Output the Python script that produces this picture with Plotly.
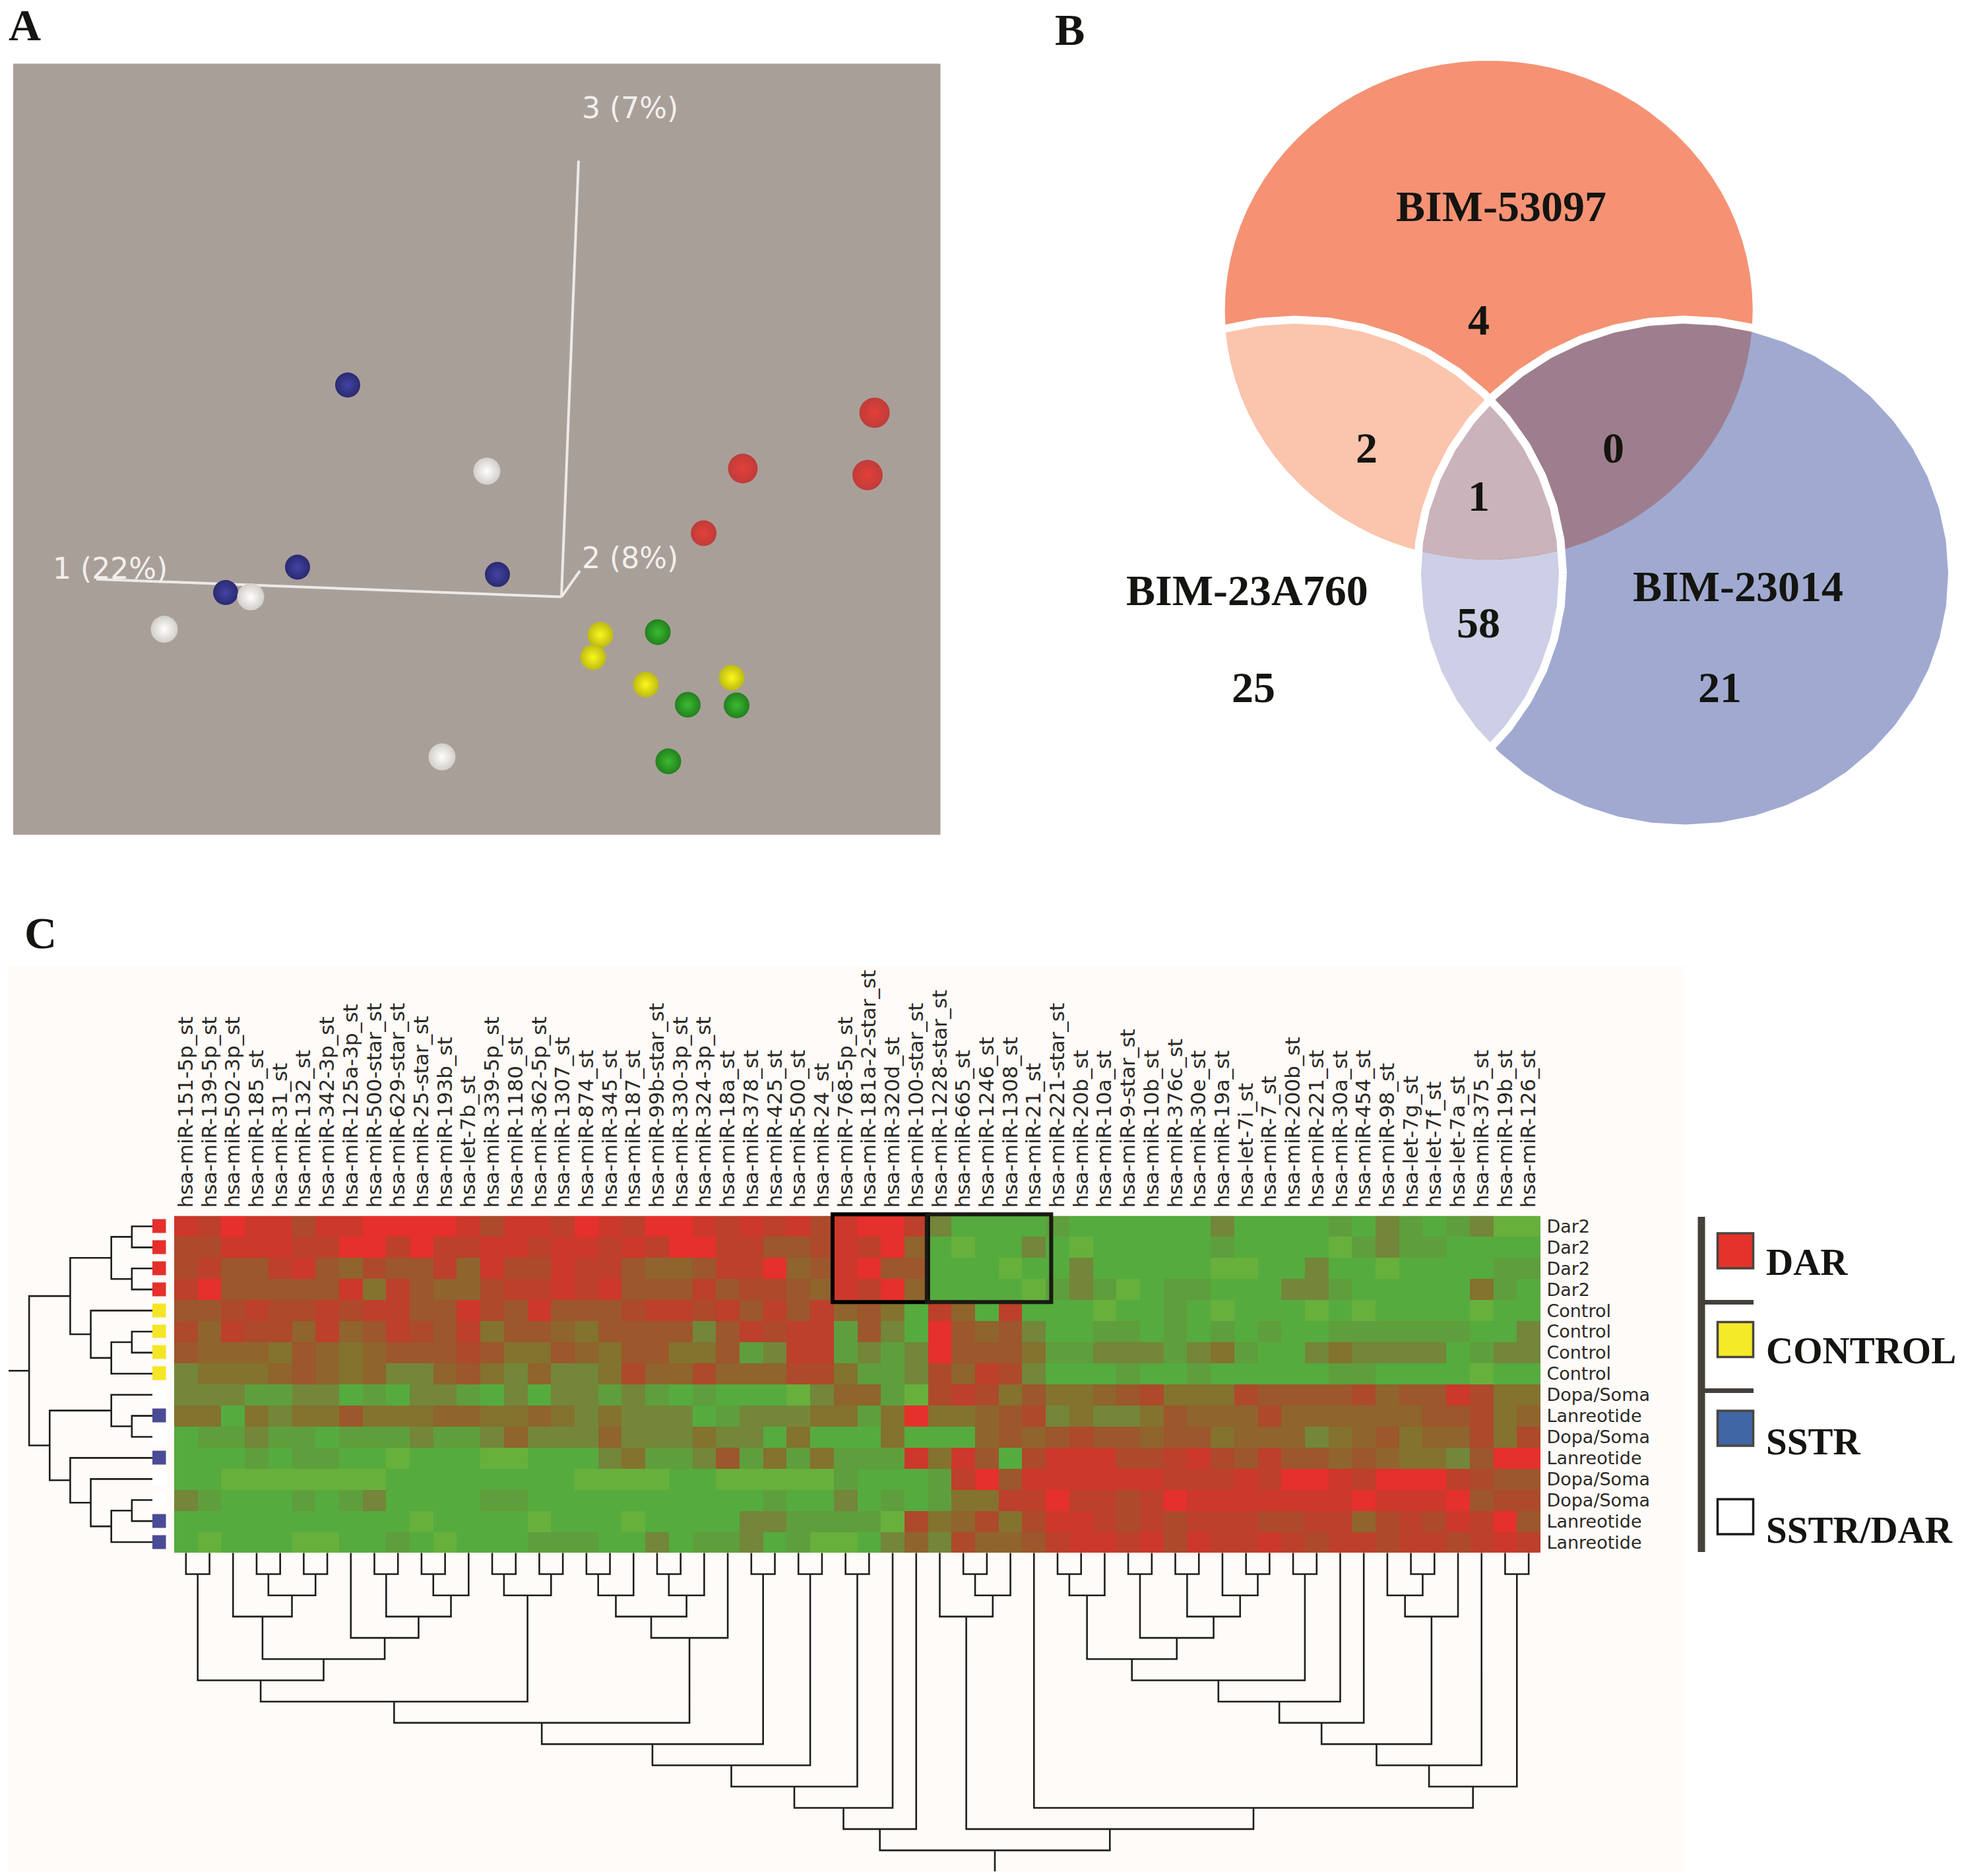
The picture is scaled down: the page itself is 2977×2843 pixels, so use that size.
import numpy as np
import plotly.graph_objects as go

W, H = 2977, 2843

# ---------- Panel A: PCA projection (1 unit = projected distance from the origin) ----------
pca_dar_x = [474.6, 275.0, 464.0, 215.6]
pca_dar_y = [279.2, 194.6, 184.6, 96.6]
pca_control_x = [59.0, 48.0, 128.0, 258.0]
pca_control_y = [-57.4, -91.4, -132.9, -122.4]
pca_untreated_x = [146.0, 191.5, 265.5, 162.0]
pca_untreated_y = [-53.4, -163.4, -164.4, -249.1]
pca_sstr_x = [-324.0, -400.0, -97.0, -509.0]
pca_sstr_y = [321.1, 45.1, 34.0, 6.6]
pca_sstrdar_x = [-113.0, -471.0, -602.0, -181.0]
pca_sstrdar_y = [190.6, 0.0, -49.0, -242.4]
pca_axis_names = ["1 (22%)", "2 (8%)", "3 (7%)"]

# ---------- Panel B: Venn counts ----------
venn_set_names = ["BIM-53097", "BIM-23A760", "BIM-23014"]
venn_only = [4, 25, 21]
venn_pairs = {"53097&23A760": 2, "53097&23014": 0, "23A760&23014": 58}
venn_all = 1

# ---------- Panel C: heat map ----------
mirna = ["hsa-miR-151-5p_st", "hsa-miR-139-5p_st", "hsa-miR-502-3p_st", "hsa-miR-185_st", "hsa-miR-31_st",
         "hsa-miR-132_st", "hsa-miR-342-3p_st", "hsa-miR-125a-3p_st", "hsa-miR-500-star_st", "hsa-miR-629-star_st",
         "hsa-miR-25-star_st", "hsa-miR-193b_st", "hsa-let-7b_st", "hsa-miR-339-5p_st", "hsa-miR-1180_st",
         "hsa-miR-362-5p_st", "hsa-miR-1307_st", "hsa-miR-874_st", "hsa-miR-345_st", "hsa-miR-187_st",
         "hsa-miR-99b-star_st", "hsa-miR-330-3p_st", "hsa-miR-324-3p_st", "hsa-miR-18a_st", "hsa-miR-378_st",
         "hsa-miR-425_st", "hsa-miR-500_st", "hsa-miR-24_st", "hsa-miR-768-5p_st", "hsa-miR-181a-2-star_st",
         "hsa-miR-320d_st", "hsa-miR-100-star_st", "hsa-miR-1228-star_st", "hsa-miR-665_st", "hsa-miR-1246_st",
         "hsa-miR-1308_st", "hsa-miR-21_st", "hsa-miR-221-star_st", "hsa-miR-20b_st", "hsa-miR-10a_st",
         "hsa-miR-9-star_st", "hsa-miR-10b_st", "hsa-miR-376c_st", "hsa-miR-30e_st", "hsa-miR-19a_st",
         "hsa-let-7i_st", "hsa-miR-7_st", "hsa-miR-200b_st", "hsa-miR-221_st", "hsa-miR-30a_st",
         "hsa-miR-454_st", "hsa-miR-98_st", "hsa-let-7g_st", "hsa-let-7f_st", "hsa-let-7a_st",
         "hsa-miR-375_st", "hsa-miR-19b_st", "hsa-miR-126_st"]
samples = ["Dar2", "Dar2", "Dar2", "Dar2", "Control", "Control", "Control", "Control",
           "Dopa/Soma", "Lanreotide", "Dopa/Soma", "Lanreotide", "Dopa/Soma", "Dopa/Soma", "Lanreotide", "Lanreotide"]
# treatment of each sample: 0 DAR, 1 CONTROL, 2 SSTR, 3 SSTR/DAR
sample_group = [0, 0, 0, 0, 1, 1, 1, 1, 3, 2, 3, 2, 3, 3, 2, 2]

row00 = [9,8,10,9,9,7,9,9,10,10,10,10,9,7,9,9,8,10, 9,8,10,10,9,8,9,8,9,7,9,10,10,8,3,1,1,1,1,2,1, 1,1,1,1,1,3,1,1,1,1,2,1,3,2,1,2,3,0,0]
row01 = [7,7,9,9,9,8,8,10,10,8,10,8,8,9,9,8,9,9, 8,9,8,10,10,8,8,6,6,7,9,8,10,5,1,0,1,1,3,1,0, 1,1,1,1,1,2,1,1,1,1,0,2,3,2,2,1,1,1,1]
row02 = [7,8,6,6,8,9,6,5,7,6,6,8,5,9,7,7,9,8, 8,6,5,5,6,8,8,10,5,6,9,10,6,6,1,1,1,0,1,1,3, 1,1,1,1,1,0,0,1,1,3,1,1,0,1,1,1,1,2,2]
row03 = [8,10,6,6,6,6,6,9,4,8,6,5,5,7,8,8,9,8, 9,6,6,6,8,6,7,7,6,5,9,8,10,5,1,1,1,1,0,2,3, 2,0,1,2,2,1,1,1,3,3,2,1,1,1,1,1,4,2,1]
row04 = [6,6,7,8,7,7,8,7,8,8,6,6,9,7,6,9,6,6, 6,7,8,8,7,8,6,8,6,8,5,6,4,1,8,5,1,8,1,1,1, 0,1,1,2,1,0,1,1,1,0,1,0,1,1,1,1,0,1,1]
row05 = [7,5,8,7,7,5,8,5,6,8,7,6,8,4,6,6,5,4, 6,6,6,6,3,6,8,7,8,8,2,6,3,1,10,6,5,6,3,1,1, 2,2,1,2,1,2,1,2,1,1,2,2,2,2,2,2,1,1,3]
row06 = [6,5,5,5,4,6,5,4,5,6,6,6,7,6,4,4,6,5, 4,6,6,4,4,6,2,3,8,8,2,3,2,3,10,6,6,6,4,2,2, 3,3,3,2,3,4,2,1,1,3,4,3,3,3,3,1,2,3,3]
row07 = [3,4,4,4,5,6,5,4,5,3,3,5,6,4,3,5,3,3, 4,7,5,5,7,5,5,5,7,7,4,2,2,3,7,5,8,7,3,1,1, 1,2,1,1,2,1,1,1,1,1,2,2,1,1,1,1,0,1,1]
row08 = [3,3,3,2,2,3,3,1,2,1,3,3,2,1,3,1,3,3, 2,3,2,1,2,1,1,1,0,3,5,5,2,0,7,8,7,4,6,4,4, 5,6,7,4,4,4,7,6,6,6,6,7,5,6,6,9,7,4,4]
row09 = [4,4,1,4,3,4,4,6,4,4,4,5,5,4,4,5,4,3, 4,3,3,3,1,2,3,3,3,4,4,2,4,10,4,4,5,6,7,3,4, 3,3,4,6,5,5,5,7,5,5,5,5,5,5,6,6,7,4,5]
row10 = [1,2,2,3,2,2,1,2,2,2,3,2,2,3,5,3,3,3, 5,3,3,3,4,3,3,1,4,1,1,1,4,1,1,1,5,6,5,6,7, 6,6,5,6,6,4,5,5,5,3,4,5,6,4,5,5,7,4,7]
row11 = [1,1,1,2,1,2,2,1,1,0,1,1,1,0,0,1,1,1, 3,4,2,2,3,6,2,4,2,4,2,2,2,9,4,9,6,1,7,9,9, 9,7,7,8,9,7,6,8,6,6,5,6,5,4,4,3,6,10,10]
row12 = [1,1,0,0,0,0,0,0,0,1,1,1,1,1,1,1,1,0, 0,0,0,1,1,0,0,0,0,0,2,1,1,1,2,8,10,6,9,9,9, 9,9,9,8,8,8,9,8,10,10,9,8,10,10,10,8,7,6,6]
row13 = [3,2,1,1,1,2,1,2,3,1,1,1,1,2,2,1,1,1, 1,1,1,1,1,1,1,2,1,1,3,1,2,1,2,4,4,8,8,10,8, 8,7,8,10,9,9,9,9,9,9,9,10,9,9,9,10,6,7,7]
row14 = [1,1,1,1,1,1,1,1,1,1,0,1,1,1,1,0,1,1, 1,0,1,1,1,1,3,3,2,2,2,2,0,7,4,5,7,4,7,9,9, 8,7,8,7,8,8,8,7,7,8,8,5,7,8,7,9,8,10,6]
row15 = [1,0,1,1,1,0,0,1,1,2,1,0,1,1,1,2,2,2, 1,1,3,1,2,2,3,1,2,0,0,1,3,5,3,7,5,5,6,8,9, 9,8,9,7,9,8,8,9,8,7,8,8,7,8,8,7,8,9,8]
heat_rows = [row00, row01, row02, row03, row04, row05, row06, row07,
             row08, row09, row10, row11, row12, row13, row14, row15]
assert all(len(r) == 58 for r in heat_rows) and len(mirna) == 58

# dendrograms: [left, right, merge level], a bare integer is a leaf index
row_tree = [[[[0, 1, 1], [2, 3, 1], 2], [4, [[5, 6, 1], 7, 2], 3], 4],
            [[8, [9, 10, 1], 2], [11, [12, [[13, 14, 1], 15, 2], 3], 4], 5], 6]

_b = [2, [[3, 4, 1], [5, 6, 1], 2], 3]
_c = [7, [[8, 9, 1], [[10, 11, 1], 12, 2], 3], 4]
_e = [[0, 1, 1], [_b, _c, 5], 6]
_g = [_e, [[13, 14, 1], [15, 16, 1], 2], 7]
_h = [[[[17, 18, 1], 19, 2], [[20, 21, 1], 22, 2], 3], 23, 4]
_n = [[[[[_g, _h, 8], [24, 25, 1], 9], [26, 27, 1], 10], [28, 29, 1], 11], 30, 12]
_n = [_n, 31, 13]
_p = [32, [[33, 34, 1], 35, 2], 3]
_q = [[37, 38, 1], 39, 2]
_r = [[40, 41, 1], [[42, 43, 1], [44, [45, 46, 1], 2], 3], 4]
_v = [[[[_q, _r, 5], [47, 48, 1], 6], 49, 7], 50, 8]
_w = [[51, [52, 53, 1], 2], 54, 3]
_y = [[[_v, _w, 9], 55, 10], [56, 57, 1], 11]
col_tree = [_n, [_p, [36, _y, 12], 13], 14]

# boxed clusters (first col, last col), (first row, last row)
box_cols_left = (28, 31)
box_cols_right = (32, 36)
box_rows = (0, 3)

legend_names = ["DAR", "CONTROL", "SSTR", "SSTR/DAR"]

# ---------- styles ----------
SERIF = "Liberation Serif"
SANS = "DejaVu Sans"
INK = "#141410"
heat_colors = ["#67B03C", "#55AB3E", "#5F9E3C", "#73863A", "#84722F", "#8F642D",
               "#9C572C", "#AC4A2B", "#BC402B", "#CC382B", "#E5302C"]
heat_scale = [[i / 10, c] for i, c in enumerate(heat_colors)]
group_colors = ["#E5302C", "#F5E625", "#4A4B96", "#FFFFFF"]
legend_colors = ["#E5322A", "#F4EA28", "#4066A4", "#FFFFFF"]


def fx(a, b):
    return [a / W, b / W]


def fy(top, bottom):
    return [1 - bottom / H, 1 - top / H]


def hidden(**kw):
    d = dict(visible=False, fixedrange=True, showgrid=False, zeroline=False)
    d.update(kw)
    return d


fig = go.Figure()

# ---------- page overlay axis (x9 / y9) ----------
layout_axes = {
    "xaxis9": hidden(domain=[0, 1], range=[0, W], anchor="y9"),
    "yaxis9": hidden(domain=[0, 1], range=[H, 0], anchor="x9"),
}
shapes = []
annos = []


def rect(x0, y0, x1, y1, fill, line=None, lw=0, layer="below"):
    shapes.append(dict(type="rect", xref="paper", yref="paper", x0=x0 / W, y0=1 - y0 / H, x1=x1 / W, y1=1 - y1 / H,
                       fillcolor=fill, line=dict(color=line or fill, width=lw), layer=layer))


def text(x, y, s, size, family=SERIF, color=INK, bold=True, xanchor="center", xref="x9", yref="y9"):
    annos.append(dict(x=x, y=y, xref=xref, yref=yref, text=f"<b>{s}</b>" if bold else str(s), showarrow=False,
                      xanchor=xanchor, yanchor="middle", font=dict(family=family, size=size, color=color)))


rect(20, 96.4, 1425.5, 1265, "#A99F99")
rect(13, 1464, 2552, 2837, "#FFFBF8")

text(37, 38, "A", 68)
text(1621, 45, "B", 68)
text(61, 1414, "C", 68)

# ---------- Panel A ----------
layout_axes["xaxis2"] = hidden(domain=fx(20, 1425.5), range=[-831, 574.5], anchor="y2")
layout_axes["yaxis2"] = hidden(domain=fy(96.4, 1265), range=[-360.4, 808.2], anchor="x2")
axis_ends = [(-705, 26.9), (28, 39.6), (26, 661.1)]
for ex, ey in axis_ends:
    fig.add_trace(go.Scatter(x=[0, ex], y=[0, ey], mode="lines", xaxis="x2", yaxis="y2", hoverinfo="skip",
                             line=dict(color="#ECE9E6", width=4), showlegend=False))
# (x, y, edge colour, centre colour, diameter)
sphere_groups = [
    (pca_sstr_x, pca_sstr_y, "#2A2A70", "#4343A6", 38),
    (pca_sstrdar_x, pca_sstrdar_y, "#D2CEC9", "#FFFFFF", 41),
    (pca_dar_x, pca_dar_y, "#C81210", "#FF1610", [46, 45, 46, 39]),
    (pca_control_x, pca_control_y, "#BDBA14", "#FBF81A", 39),
    (pca_untreated_x, pca_untreated_y, "#23801E", "#3ABB30", 39),
]
for gx, gy, edge, centre, sz in sphere_groups:
    fig.add_trace(go.Scatter(x=gx, y=gy, mode="markers", xaxis="x2", yaxis="y2", hoverinfo="skip", showlegend=False,
                             marker=dict(size=sz, color=edge, gradient=dict(type="radial", color=centre),
                                         line=dict(width=0))))
text(-684, 43, pca_axis_names[0], 44, SANS, "#F2EFEC", False, xref="x2", yref="y2")
text(104, 59, pca_axis_names[1], 44, SANS, "#F2EFEC", False, xref="x2", yref="y2")
text(104, 741, pca_axis_names[2], 44, SANS, "#F2EFEC", False, xref="x2", yref="y2")


# ---------- Panel B (three ellipses, regions by convex clipping) ----------
def ellipse(cx, cy, rx, ry, n=720):
    t = np.linspace(0, 2 * np.pi, n, endpoint=False)
    return list(zip(cx + rx * np.cos(t), cy + ry * np.sin(t)))


def clip(subject, clipper):
    def signed(p, a, b):
        return (b[0] - a[0]) * (p[1] - a[1]) - (b[1] - a[1]) * (p[0] - a[0])
    out = subject
    for i in range(len(clipper)):
        a, b = clipper[i], clipper[(i + 1) % len(clipper)]
        inp, out = out, []
        for j in range(len(inp)):
            p, q = inp[j], inp[(j + 1) % len(inp)]
            sp, sq = signed(p, a, b), signed(q, a, b)
            if sp >= 0:
                out.append(p)
            if sp * sq < 0:
                u = sp / (sp - sq)
                out.append((p[0] + u * (q[0] - p[0]), p[1] + u * (q[1] - p[1])))
    return out


ell_top = ellipse(2256.7, 470, 400, 378)
ell_left = ellipse(1964, 870, 405, 385.6)
ell_right = ellipse(2553.5, 870, 405.5, 385.6)


def poly(points, fill=None, line=None, lw=0):
    xs = [p[0] for p in points] + [points[0][0]]
    ys = [p[1] for p in points] + [points[0][1]]
    fig.add_trace(go.Scatter(x=xs, y=ys, xaxis="x9", yaxis="y9", mode="lines", hoverinfo="skip", showlegend=False,
                             fill="toself" if fill else "none", fillcolor=fill,
                             line=dict(color=line if line else "rgba(0,0,0,0)", width=lw)))


poly(ell_top, "#F59274")
poly(ell_right, "#A0A9D0")
poly(clip(ell_top, ell_left), "#FBC4AD")
poly(clip(ell_left, ell_right), "#CDCFE6")
poly(clip(ell_top, ell_right), "#9E7E8E")
poly(clip(clip(ell_top, ell_left), ell_right), "#CAB3BA")
poly(ell_left, None, "#FFFFFF", 12)
poly(ell_right, None, "#FFFFFF", 12)

text(2275, 312, venn_set_names[0], 66)
text(1890, 894, venn_set_names[1], 66)
text(2634, 888, venn_set_names[2], 66)
text(2241, 484, venn_only[0], 66)
text(1900, 1041, venn_only[1], 66)
text(2607, 1041, venn_only[2], 66)
text(2071, 678, venn_pairs["53097&23A760"], 66)
text(2445, 678, venn_pairs["53097&23014"], 66)
text(2241, 943, venn_pairs["23A760&23014"], 66)
text(2241, 751, venn_all, 66)

# ---------- Panel C heat map ----------
HL, HR, HT, HB = 264, 2335, 1842.5, 2353
HX = fx(HL, HR)
HY = fy(HT, HB)
layout_axes["xaxis3"] = dict(domain=HX, range=[-0.5, 57.5], anchor="y3", side="top", fixedrange=True,
                             tickmode="array", tickvals=list(range(58)), ticktext=mirna, tickangle=-90,
                             ticks="outside", ticklen=5, tickcolor="rgba(0,0,0,0)",
                             tickfont=dict(family=SANS, size=31, color="#2A2A26"),
                             showgrid=False, zeroline=False, showline=False)
layout_axes["yaxis3"] = dict(domain=HY, range=[15.5, -0.5], anchor="x3", side="right", fixedrange=True,
                             tickmode="array", tickvals=list(range(16)), ticktext=samples,
                             ticks="outside", ticklen=3, tickcolor="rgba(0,0,0,0)",
                             tickfont=dict(family=SANS, size=27, color="#2A2A26"),
                             showgrid=False, zeroline=False, showline=False)
fig.add_trace(go.Heatmap(z=heat_rows, x=list(range(58)), y=list(range(16)), xaxis="x3", yaxis="y3",
                         zmin=0, zmax=10, colorscale=heat_scale, showscale=False, hoverinfo="skip"))

# sample strip
layout_axes["xaxis4"] = hidden(domain=fx(231, 251.5), range=[-0.5, 0.5], anchor="y4")
layout_axes["yaxis4"] = hidden(domain=HY, range=[15.5, -0.5], anchor="x4")
fig.add_trace(go.Heatmap(z=[[g] for g in sample_group], x=[0], y=list(range(16)), xaxis="x4", yaxis="y4", ygap=11,
                         zmin=0, zmax=3, showscale=False, hoverinfo="skip",
                         colorscale=[[i / 3, c] for i, c in enumerate(group_colors)]))


def walk(node):
    """Return (leaf position, level, segment xs, segment ys)."""
    if not isinstance(node, list):
        return float(node), 0, [], []
    pl, hl, xl, yl = walk(node[0])
    pr, hr, xr, yr = walk(node[1])
    h = node[2]
    return (pl + pr) / 2, h, xl + xr + [pl, pl, pr, pr, None], yl + yr + [hl, h, h, hr, None]


TREE_LINE = dict(color="#1E1E1A", width=2.6)

# row dendrogram
layout_axes["xaxis5"] = hidden(domain=fx(13, 231), range=[7, 0], anchor="y5")
layout_axes["yaxis5"] = hidden(domain=HY, range=[15.5, -0.5], anchor="x5")
rp, rh, rpos, rlev = walk(row_tree)
fig.add_trace(go.Scatter(x=rlev + [rh, 7], y=rpos + [rp, rp], xaxis="x5", yaxis="y5", mode="lines", hoverinfo="skip",
                         showlegend=False, line=TREE_LINE))

# column dendrogram
layout_axes["xaxis6"] = hidden(domain=HX, range=[-0.5, 57.5], anchor="y6")
layout_axes["yaxis6"] = hidden(domain=fy(2353.3, 2836.3), range=[15, 0], anchor="x6")
cp, ch, cpos, clev = walk(col_tree)
fig.add_trace(go.Scatter(x=cpos + [cp, cp], y=clev + [ch, 15], xaxis="x6", yaxis="y6", mode="lines", hoverinfo="skip",
                         showlegend=False, line=TREE_LINE))

# boxes on the heat map: same scale as the heat map, paper refs so that the frame is not cut at the plot edge
cell_w = (HR - HL) / 58
cell_h = (HB - HT) / 16
for (c0, c1), color, x1pad in ((box_cols_left, "#000000", 0), (box_cols_right, "#1A1A14", 0.23)):
    shapes.append(dict(type="rect", xref="paper", yref="paper",
                       x0=(HL + cell_w * (c0 - 0.05)) / W, x1=(HL + cell_w * (c1 + 1 + x1pad)) / W,
                       y0=1 - (HT + cell_h * (box_rows[0] - 0.07)) / H, y1=1 - (HT + cell_h * (box_rows[1] + 1.1)) / H,
                       line=dict(color=color, width=6), fillcolor="rgba(0,0,0,0)", layer="above"))

# ---------- group legend ----------
rect(2573.5, 1844, 2584.5, 2352, "#45403A")
rect(2579, 1970, 2658, 1977, "#45403A")
rect(2579, 2104, 2658, 2111, "#45403A")
legend_tops = [1869, 2003.5, 2138, 2272]
legend_text_y = [1912, 2046, 2184, 2318]
for i, name in enumerate(legend_names):
    rect(2603.5, legend_tops[i], 2657.5, legend_tops[i] + 53, legend_colors[i],
         "#1A1A18" if i == 3 else "#4A4540", 3.5)
    text(2675, legend_text_y[i], name, 57, xanchor="left")

fig.update_layout(width=W, height=H, margin=dict(l=0, r=0, t=0, b=0), autosize=False,
                  paper_bgcolor="#FFFFFF", plot_bgcolor="rgba(0,0,0,0)", showlegend=False,
                  shapes=shapes, annotations=annos, **layout_axes)

fig.write_html("out.html", config=dict(displayModeBar=False),
               post_script="document.body.style.margin='0';document.body.style.overflow='hidden';")
